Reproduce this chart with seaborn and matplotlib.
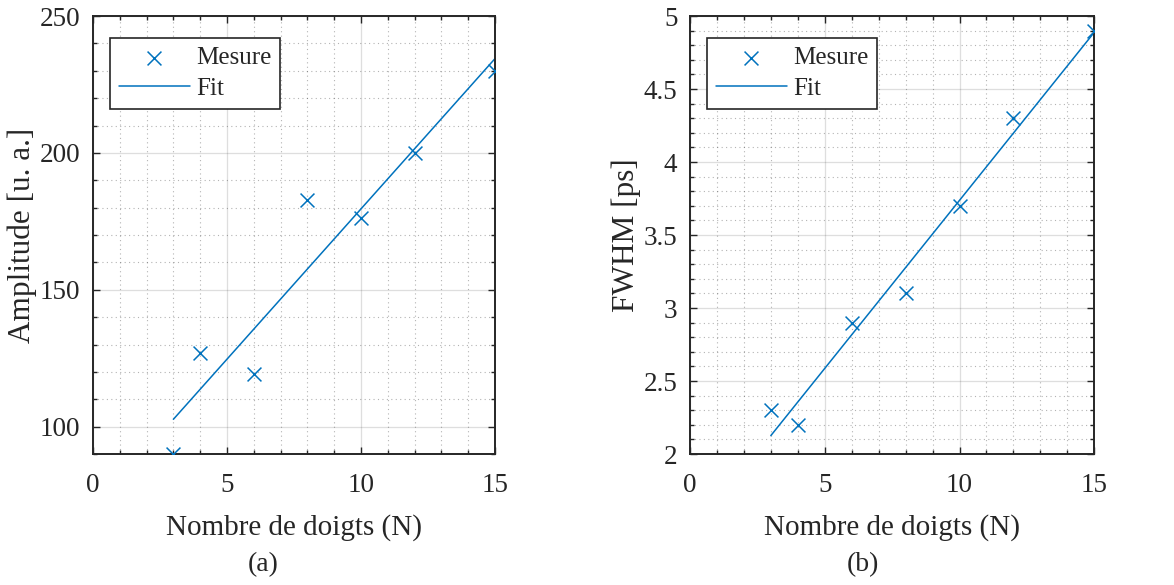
import numpy as np
import pandas as pd
import matplotlib
matplotlib.use("Agg")
import matplotlib.pyplot as plt
from matplotlib.ticker import MultipleLocator, FormatStrFormatter
import seaborn as sns

# ---- data ----
doigts = [3, 4, 6, 8, 10, 12, 15]
amplitude = [90.0, 126.8, 119.3, 182.7, 176.1, 200.1, 230.0]
fwhm = [2.3, 2.2, 2.9, 3.1, 3.7, 4.3, 4.9]
xlabel = "Nombre de doigts (N)"
ylabels = ["Amplitude [u. a.]", "FWHM [ps]"]
panel_labels = ["(a)", "(b)"]
legend_labels = ["Mesure", "Fit"]

sns.set_theme(style="ticks")
plt.rcParams["font.family"] = ["Liberation Serif", "DejaVu Serif"]

BLUE = "#0072BD"
DARK = "#262626"

fig = plt.figure(figsize=(11.74, 5.85), dpi=100)
ax1 = fig.add_axes([0.0792, 0.2239, 0.4216 - 0.0792, 0.9726 - 0.2239])
ax2 = fig.add_axes([0.5877, 0.2239, 0.9321 - 0.5877, 0.9726 - 0.2239])

df1 = pd.DataFrame({"N": doigts, "v": amplitude})
df2 = pd.DataFrame({"N": doigts, "v": fwhm})

configs = [
    (ax1, df1, ylabels[0], (90, 250), 50, 10, "%g"),
    (ax2, df2, ylabels[1], (2, 5), 0.5, 0.1, "%g"),
]

for ax, df, ylab, ylim, ymaj, ymin, fmt in configs:
    sns.scatterplot(data=df, x="N", y="v", marker="x", color=BLUE, s=100,
                    linewidth=1.1, ax=ax, label=legend_labels[0], zorder=3)
    sns.regplot(data=df, x="N", y="v", scatter=False, ci=None, truncate=True,
                color=BLUE, line_kws={"lw": 1.1}, ax=ax, label=legend_labels[1])
    ax.set_xlim(0, 15)
    ax.set_ylim(*ylim)
    ax.xaxis.set_major_locator(MultipleLocator(5))
    ax.xaxis.set_minor_locator(MultipleLocator(1))
    ax.yaxis.set_major_locator(MultipleLocator(ymaj))
    ax.yaxis.set_minor_locator(MultipleLocator(ymin))
    ax.yaxis.set_major_formatter(FormatStrFormatter(fmt))
    ax.grid(which="major", color=DARK, alpha=0.15, lw=0.9, ls="-")
    ax.grid(which="minor", color=DARK, alpha=0.35, lw=0.8, ls=(0, (1, 3)))
    ax.set_axisbelow(True)
    ax.tick_params(which="both", direction="in", top=True, right=True,
                   colors=DARK, labelsize=19.5, width=1.0)
    ax.tick_params(which="major", length=5)
    ax.tick_params(axis="x", which="major", pad=14)
    ax.tick_params(axis="y", which="major", pad=9)
    ax.tick_params(which="minor", length=3)
    for sp in ax.spines.values():
        sp.set_visible(True)
        sp.set_color(DARK)
        sp.set_linewidth(1.4)
    ax.set_xlabel(xlabel, fontsize=21, color=DARK, labelpad=11)
    ax.set_ylabel(ylab, fontsize=22.5, color=DARK, labelpad=2)
    leg = ax.legend(loc="upper left", bbox_to_anchor=(0.042, 0.95),
                    borderaxespad=0, fancybox=False, framealpha=1,
                    edgecolor=DARK, fontsize=18, handlelength=2.85,
                    handletextpad=0.25, labelspacing=0.33, borderpad=0.35)
    leg.get_frame().set_linewidth(1.2)
    for t in leg.get_texts():
        t.set_color(DARK)

fig.text(263 / 1174, 1 - 565 / 585, panel_labels[0], ha="center", va="center",
         fontsize=20, color=DARK)
fig.text(863 / 1174, 1 - 565 / 585, panel_labels[1], ha="center", va="center",
         fontsize=20, color=DARK)

fig.savefig("out.png", dpi=100, facecolor="white")
